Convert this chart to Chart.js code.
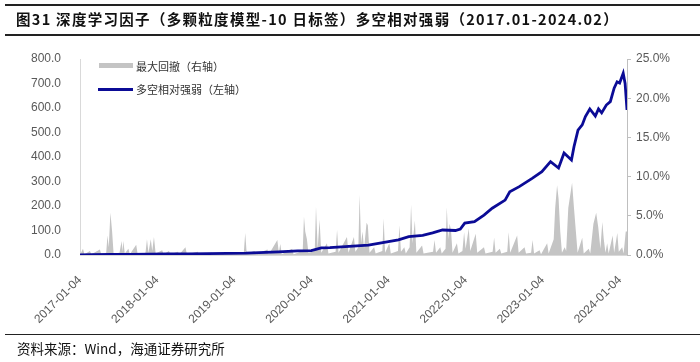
<!DOCTYPE html>
<html><head><meta charset="utf-8">
<script src="https://cdn.jsdelivr.net/npm/chart.js@4.4.1/dist/chart.umd.min.js"></script>
<style>
body{margin:0;width:700px;height:362px;position:relative;background:#fff;overflow:hidden;font-family:"Noto Sans CJK SC","Liberation Sans",sans-serif}
.hl{position:absolute;left:5px;right:0;height:0}
.lg{position:absolute;font-size:11px;color:#333;white-space:nowrap;line-height:14px}
</style></head>
<body>
<canvas id="c" width="700" height="362" style="position:absolute;left:0;top:0"></canvas>
<div class="hl" style="top:4px;border-top:2px solid #222"></div>
<div id="title" style="position:absolute;left:16px;top:10px;font-weight:bold;font-size:14.5px;letter-spacing:1.3px;white-space:nowrap;color:#111;line-height:18px">图31 深度学习因子（多颗粒度模型-10 日标签）多空相对强弱（2017.01-2024.02）</div>
<div class="hl" style="top:34px;border-top:2px solid #222"></div>
<div style="position:absolute;left:99px;top:63px;width:34px;height:5px;background:#c4c4c4"></div>
<div class="lg" style="left:136px;top:59px">最大回撤（右轴）</div>
<div style="position:absolute;left:98px;top:88px;width:35px;height:3px;background:#0b0b96"></div>
<div class="lg" style="left:136px;top:82px">多空相对强弱（左轴）</div>
<div class="hl" style="top:334px;border-top:1.5px solid #222"></div>
<div style="position:absolute;left:17px;top:340px;font-size:13.5px;color:#111;white-space:nowrap;line-height:17px">资料来源：Wind，海通证券研究所</div>
<script>
const lineDates = ["2017-01-04","2017-03-01","2017-06-01","2017-09-01","2017-12-01","2018-03-01","2018-06-01","2018-09-01","2018-12-01","2019-03-01","2019-06-01","2019-08-01","2019-11-01","2020-01-04","2020-02-20","2020-04-01","2020-07-01","2020-10-01","2020-12-28","2021-02-20","2021-04-10","2021-06-15","2021-08-01","2021-09-17","2021-11-17","2021-12-10","2021-12-31","2022-02-15","2022-04-01","2022-05-10","2022-07-10","2022-08-01","2022-09-15","2022-11-15","2022-12-31","2023-02-10","2023-03-20","2023-04-15","2023-05-20","2023-06-01","2023-06-20","2023-07-10","2023-07-25","2023-08-15","2023-09-10","2023-09-25","2023-10-10","2023-11-01","2023-11-20","2023-12-08","2023-12-22","2024-01-03","2024-01-20","2024-01-29","2024-02-07"];
const lineValues = [0,1,2,2,3,4,5,6,7,8,11,13,17,18,29,30,35,40,54,62,75,80,90,102,100,106,130,136,163,191,224,258,279,313,340,381,355,416,388,442,510,531,565,596,567,596,580,612,626,681,707,702,742,700,592];

const ddDates = ["2017-01-04","2017-01-18","2017-01-25","2017-02-20","2017-02-27","2017-04-08","2017-04-15","2017-05-08","2017-05-14","2017-05-20","2017-05-28","2017-06-05","2017-06-12","2017-07-10","2017-07-20","2017-07-24","2017-07-28","2017-08-04","2017-08-21","2017-08-28","2017-09-27","2017-10-04","2017-11-10","2017-11-17","2017-11-24","2017-12-05","2017-12-12","2017-12-20","2017-12-28","2018-01-28","2018-02-04","2018-03-01","2018-03-08","2018-04-12","2018-04-20","2018-05-18","2018-05-25","2018-07-15","2018-07-22","2018-09-20","2018-09-27","2018-11-10","2018-11-17","2019-02-18","2019-02-25","2019-03-04","2019-04-10","2019-04-17","2019-06-10","2019-06-17","2019-07-27","2019-08-03","2019-08-10","2019-08-17","2019-10-05","2019-10-12","2019-11-24","2019-11-30","2019-12-06","2019-12-14","2019-12-21","2020-01-20","2020-01-26","2020-02-03","2020-02-12","2020-02-20","2020-03-18","2020-03-25","2020-04-28","2020-05-05","2020-05-12","2020-06-21","2020-06-28","2020-07-24","2020-07-31","2020-08-14","2020-08-20","2020-08-27","2020-09-03","2020-09-10","2020-09-22","2020-09-28","2020-10-06","2020-10-28","2020-11-04","2020-12-06","2020-12-12","2020-12-19","2021-01-08","2021-01-15","2021-02-18","2021-02-25","2021-03-04","2021-03-20","2021-03-27","2021-04-14","2021-04-21","2021-04-28","2021-05-09","2021-05-16","2021-06-12","2021-06-19","2021-08-03","2021-08-10","2021-08-17","2021-09-06","2021-09-13","2021-10-01","2021-10-07","2021-10-14","2021-10-20","2021-10-27","2021-11-03","2021-11-24","2021-12-01","2021-12-20","2021-12-28","2022-01-04","2022-01-19","2022-01-26","2022-02-21","2022-02-28","2022-04-01","2022-04-08","2022-05-12","2022-05-19","2022-05-26","2022-06-15","2022-06-22","2022-07-20","2022-07-27","2022-08-03","2022-09-05","2022-09-12","2022-10-10","2022-10-17","2022-11-10","2022-11-17","2022-11-24","2022-12-20","2022-12-27","2023-01-25","2023-02-01","2023-02-25","2023-03-04","2023-03-13","2023-03-20","2023-03-28","2023-04-05","2023-04-18","2023-04-25","2023-05-05","2023-05-23","2023-06-01","2023-06-10","2023-06-18","2023-07-10","2023-07-17","2023-08-10","2023-08-17","2023-09-01","2023-09-14","2023-09-24","2023-10-04","2023-10-13","2023-10-20","2023-10-28","2023-11-05","2023-11-12","2023-12-01","2023-12-08","2023-12-23","2023-12-30","2024-01-15","2024-01-22","2024-02-01","2024-02-07"];
const ddValues = [0,0.8,0.1,0.5,0.1,0.7,0.1,0.3,2.5,1.0,5.4,3.0,0.2,0.3,1.8,0.4,1.8,0.2,0.8,0.1,1.3,0.1,0.3,2.0,0.3,2.0,0.5,2.3,0.2,0.6,0.1,0.5,0.1,0.4,0.1,1.0,0.1,0.4,0.1,0.3,0.1,0.3,0.1,0.2,2.8,0.2,0.5,0.1,0.7,0.1,1.9,0.3,1.4,0.1,0.8,0.1,0.5,4.9,3.0,2.0,0.3,0.5,6.2,0.8,4.5,0.3,1.5,0.2,0.4,3.2,0.3,2.3,0.3,2.3,0.4,1.0,7.7,1.5,3.0,0.8,4.1,3.8,0.3,1.0,0.2,0.5,4.7,0.3,1.5,0.2,0.5,3.8,0.4,1.0,0.2,1.0,6.4,1.5,4.4,0.3,1.2,0.2,0.4,1.9,0.3,1.0,0.2,0.8,6.1,2.0,4.0,3.2,0.3,1.5,0.2,0.5,2.9,0.8,3.4,0.5,2.7,0.3,1.0,0.2,0.4,2.2,0.3,0.8,0.2,0.4,2.9,0.3,2.5,0.3,1.0,0.2,0.3,1.9,0.2,0.6,0.1,1.5,0.2,2.0,6.0,8.9,7.2,3.0,0.3,1.0,0.5,6.0,9.2,6.0,3.0,0.3,2.2,0.2,0.8,0.2,4.0,5.4,3.5,0.8,4.2,2.0,0.3,1.5,0.2,2.5,0.3,2.8,0.4,1.0,0.2,3.0,3.0];

const leftTicks = [0,100,200,300,400,500,600,700,800];
const rightTicks = [0,5,10,15,20,25];
const xTickYears = [2017,2018,2019,2020,2021,2022,2023,2024];

function toYear(s){
  const d = Date.UTC(+s.slice(0,4), +s.slice(5,7)-1, +s.slice(8,10));
  const y = +s.slice(0,4);
  const a = Date.UTC(y,0,4), b = Date.UTC(y+1,0,4);
  return y + (d-a)/(b-a);
}
const linePts = lineDates.map((d,i)=>({x:toYear(d),y:lineValues[i]}));
const ddPts = ddDates.map((d,i)=>({x:toYear(d),y:ddValues[i]}));
const tickFont = {family:"'Liberation Sans', Arial, sans-serif", size:12};

new Chart(document.getElementById('c'),{
  type:'line',
  data:{datasets:[
    {label:'多空相对强弱（左轴）',data:linePts,yAxisID:'y',borderColor:'#0b0b96',borderWidth:2.8,pointRadius:0,tension:0,fill:false},
    {label:'最大回撤（右轴）',data:ddPts,yAxisID:'y1',borderColor:'rgba(0,0,0,0)',borderWidth:0,backgroundColor:'#c4c4c4',pointRadius:0,tension:0,fill:'origin'}
  ]},
  options:{
    responsive:false,animation:false,
    layout:{padding:{top:59,left:0,right:0,bottom:0}},
    plugins:{legend:{display:false},tooltip:{enabled:false}},
    scales:{
      x:{type:'linear',min:toYear(lineDates[0]),max:toYear(lineDates[lineDates.length-1]),
        grid:{display:false},border:{display:true,color:'#d9d9d9'},
        afterBuildTicks:s=>{s.ticks = xTickYears.map(v=>({value:v}));},
        ticks:{autoSkip:false,maxRotation:45,minRotation:45,color:'#595959',font:tickFont,padding:10,
          callback:v=>Math.round(v)+'-01-04'},
        afterFit:s=>{s.height=107;}},
      y:{position:'left',min:0,max:800,
        grid:{display:false},border:{display:true,color:'#d9d9d9'},
        afterBuildTicks:s=>{s.ticks = leftTicks.map(v=>({value:v}));},
        ticks:{color:'#595959',font:tickFont,padding:11,callback:v=>v.toFixed(1)},
        afterFit:s=>{s.width=80;}},
      y1:{position:'right',min:0,max:25,
        grid:{display:true,drawOnChartArea:false,drawTicks:true,tickLength:4,color:'#bfbfbf'},border:{display:true,color:'#bfbfbf'},
        afterBuildTicks:s=>{s.ticks = rightTicks.map(v=>({value:v}));},
        ticks:{color:'#595959',font:tickFont,padding:5,callback:v=>v.toFixed(1)+'%'},
        afterFit:s=>{s.width=73;}}
    }
  }
});
</script>
</body></html>
